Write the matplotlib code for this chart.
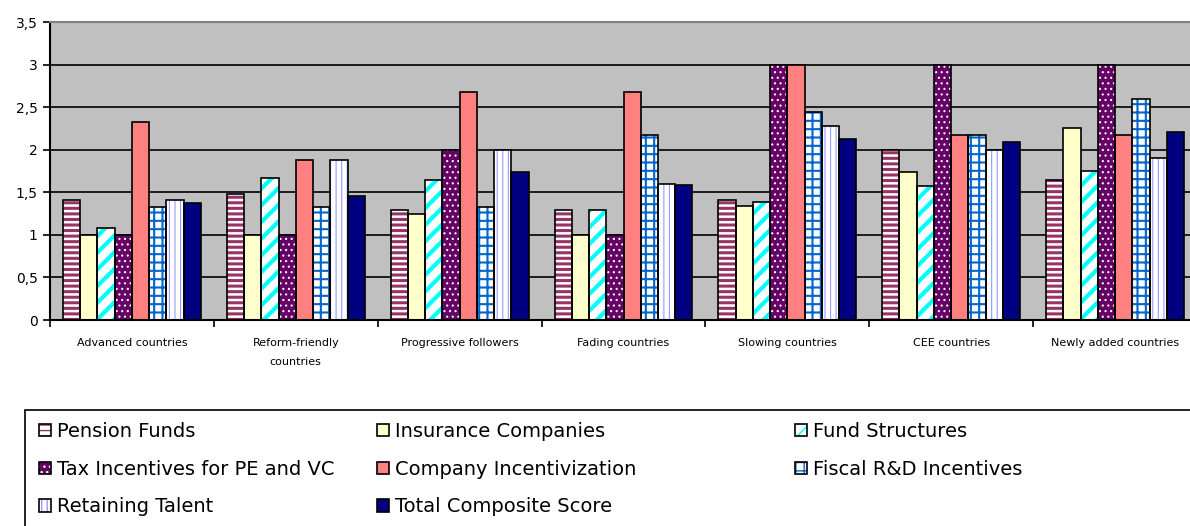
import matplotlib
matplotlib.use("Agg")
import matplotlib.pyplot as plt
import numpy as np
from matplotlib.patches import Rectangle, Patch

# Categories and series
categories = ["Advanced countries", "Reform-friendly\ncountries", "Progressive followers",
              "Fading countries", "Slowing countries", "CEE countries", "Newly added countries"]
series = ["Pension Funds", "Insurance Companies", "Fund Structures",
          "Tax Incentives for PE and VC", "Company Incentivization", "Fiscal R&D Incentives",
          "Retaining Talent", "Total Composite Score"]

pension = [1.41, 1.48, 1.29, 1.29, 1.41, 2.00, 1.64]
insurance = [1.00, 1.00, 1.25, 1.00, 1.34, 1.74, 2.26]
fund = [1.08, 1.67, 1.64, 1.29, 1.39, 1.57, 1.75]
tax = [1.00, 1.00, 2.00, 1.00, 3.00, 3.00, 3.00]
company = [2.33, 1.88, 2.68, 2.68, 3.00, 2.17, 2.17]
fiscal = [1.33, 1.33, 1.33, 2.17, 2.44, 2.17, 2.59]
talent = [1.41, 1.88, 2.00, 1.60, 2.28, 2.00, 1.90]
total = [1.37, 1.46, 1.74, 1.58, 2.12, 2.09, 2.21]

yticks = [0, 0.5, 1, 1.5, 2, 2.5, 3, 3.5]
ytick_labels = ["0", "0,5", "1", "1,5", "2", "2,5", "3", "3,5"]

# (facecolor, hatch, hatch colour, hatch linewidth)
styles = [
    ("white", "---", "#993366", 2.2),
    ("#FFFFCC", None, None, 1.0),
    ("white", "//", "#00FFFF", 3.0),
    ("#660066", "...", "white", 0.8),
    ("#FF8080", None, None, 1.0),
    ("white", "++", "#0066CC", 1.5),
    ("white", "|||", "#9999FF", 0.8),
    ("#000080", None, None, 1.0),
]

values = [pension, insurance, fund, tax, company, fiscal, talent, total]

fig = plt.figure(figsize=(11.9, 5.26), dpi=100)
ax = fig.add_axes([50 / 1190, 1 - 320 / 526, 1147 / 1190, 298 / 526])
ax.set_facecolor("#C0C0C0")

x = np.arange(len(categories))
n = len(series)
w = 1 / (n + 1.5)

handles = []
for i, (vals, (fc, hatch, hc, hlw)) in enumerate(zip(values, styles)):
    pos = x - 0.5 + (1 - n * w) / 2 + (i + 0.5) * w
    with plt.rc_context({"hatch.linewidth": hlw}):
        ax.bar(pos, vals, w, color=fc, hatch=hatch,
               edgecolor=hc if hc else fc, linewidth=0, zorder=2)
        h1 = Patch(facecolor=fc, hatch=hatch, edgecolor=hc if hc else fc, linewidth=0)
    ax.bar(pos, vals, w, fill=False, edgecolor="black", linewidth=1.2, zorder=3)
    h2 = Patch(fill=False, edgecolor="black", linewidth=1.2)
    handles.append((h1, h2))

ax.set_xlim(-0.5, len(categories) - 0.5)
ax.set_ylim(0, 3.5)
ax.set_yticks(yticks)
ax.set_yticklabels(ytick_labels, fontsize=10)
ax.yaxis.grid(True, color="black", linewidth=1.2)
ax.set_axisbelow(True)
ax.tick_params(axis="y", length=5, width=1.2, pad=4)

ax.set_xticks(x)
ax.set_xticklabels(categories, fontsize=8, linespacing=2.1)
ax.tick_params(axis="x", which="major", length=0, pad=13)
ax.set_xticks(np.arange(len(categories) + 1) - 0.5, minor=True)
ax.tick_params(axis="x", which="minor", length=5, width=1.2)

for s in ["left", "bottom"]:
    ax.spines[s].set_linewidth(1.5)
    ax.spines[s].set_color("black")
ax.spines["top"].set_color("#808080")
ax.spines["top"].set_linewidth(1.5)
ax.spines["right"].set_visible(False)

# Legend frame
fig.patches.append(Rectangle((25 / 1190, -0.1), 1.2, 1 - 410 / 526 + 0.1,
                             transform=fig.transFigure, fill=False,
                             edgecolor="black", linewidth=1.2))

cols = [[0, 3, 6], [1, 4, 7], [2, 5]]
col_x = [39, 377, 795]
for cx, idx in zip(col_x, cols):
    fig.legend([handles[k] for k in idx], [series[k] for k in idx],
               loc="upper left", bbox_to_anchor=(cx / 1190, 1 - 422 / 526),
               frameon=False, fontsize=14, handlelength=0.62, handleheight=0.62,
               handletextpad=0.3, labelspacing=0.96, borderpad=0, borderaxespad=0)

fig.savefig("out.png", dpi=100)
